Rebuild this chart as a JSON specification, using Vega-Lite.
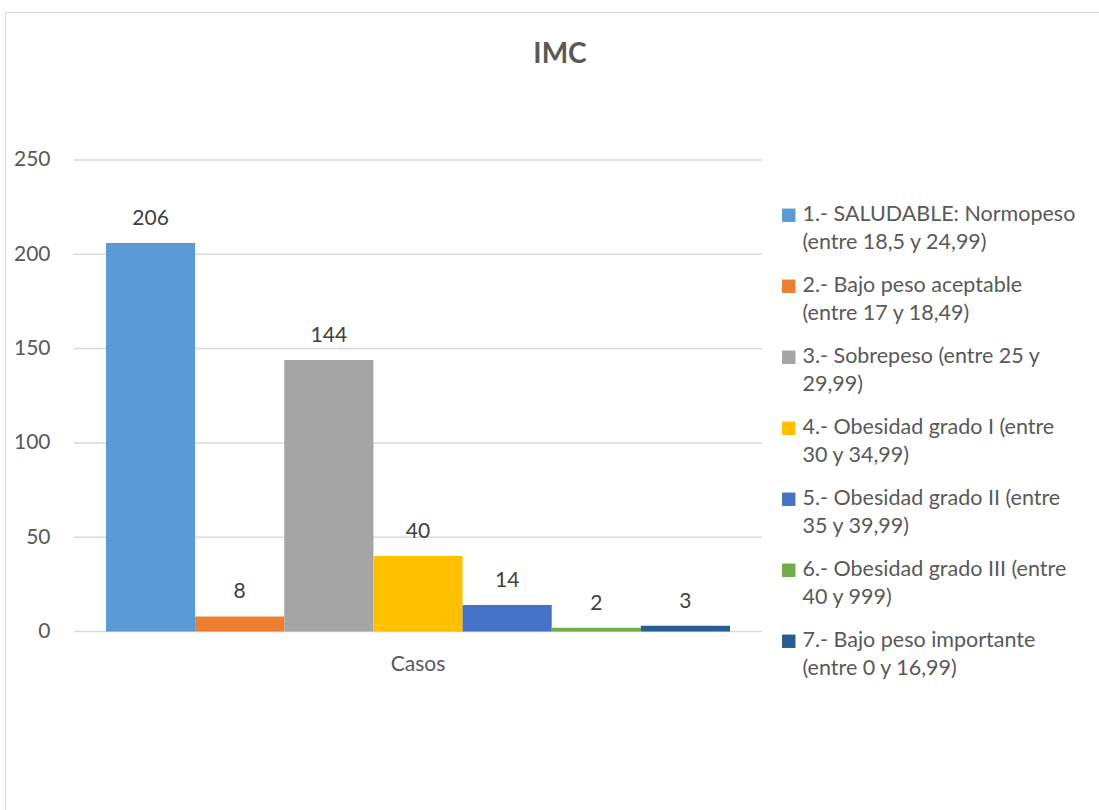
{
  "$schema": "https://vega.github.io/schema/vega-lite/v6.json",
  "width": 1110,
  "height": 805,
  "autosize": {"type": "none"},
  "padding": {"left": 5, "top": 12, "right": 0, "bottom": 0},
  "background": "white",
  "config": {
    "view": {"stroke": "#d9d9d9", "strokeWidth": 1},
    "font": "Lato",
    "style": {"guide-label": {"lineHeight": 28}}
  },
  "title": {
    "text": "IMC",
    "fontSize": 28,
    "fontWeight": "bold",
    "color": "#595959",
    "font": "Lato",
    "anchor": "middle",
    "frame": "group",
    "baseline": "alphabetic",
    "offset": -50,
    "dy": 29
  },
  "datasets": {
    "imc": [
      {"grupo": "Casos", "categoria": "1.- SALUDABLE: Normopeso\n(entre 18,5 y 24,99)", "casos": 206},
      {"grupo": "Casos", "categoria": "2.- Bajo peso aceptable\n(entre 17 y 18,49)", "casos": 8},
      {"grupo": "Casos", "categoria": "3.- Sobrepeso (entre 25 y\n29,99)", "casos": 144},
      {"grupo": "Casos", "categoria": "4.- Obesidad grado I (entre\n30 y 34,99)", "casos": 40},
      {"grupo": "Casos", "categoria": "5.- Obesidad grado II (entre\n35 y 39,99)", "casos": 14},
      {"grupo": "Casos", "categoria": "6.- Obesidad grado III (entre\n40 y 999)", "casos": 2},
      {"grupo": "Casos", "categoria": "7.- Bajo peso importante\n(entre 0 y 16,99)", "casos": 3}
    ],
    "grid": [{"v": 0}, {"v": 50}, {"v": 100}, {"v": 150}, {"v": 200}, {"v": 250}]
  },
  "encoding": {
    "x": {
      "field": "grupo",
      "type": "nominal",
      "scale": {"paddingInner": 0, "paddingOuter": 0.3894, "align": 0.2078},
      "axis": {
        "title": null,
        "domain": false,
        "ticks": false,
        "tickSize": 0,
        "grid": false,
        "labelAngle": 0,
        "labelFontSize": 21,
        "labelColor": "#595959",
        "labelFont": "Lato",
        "labelPadding": 22,
        "offset": -185.5
      }
    },
    "y": {
      "field": "casos",
      "type": "quantitative",
      "scale": {"domain": [-98.36, 328.47], "nice": false, "zero": false},
      "axis": {
        "title": null,
        "values": [0, 50, 100, 150, 200, 250],
        "domain": false,
        "ticks": false,
        "tickSize": 0,
        "grid": false,
        "labelFontSize": 21,
        "labelColor": "#595959",
        "labelFont": "Lato",
        "labelPadding": 5,
        "offset": -50
      }
    }
  },
  "layer": [
    {
      "data": {"name": "grid"},
      "mark": {"type": "tick", "orient": "horizontal", "color": "#d9d9d9", "thickness": 1.5, "size": 688, "opacity": 1},
      "encoding": {
        "x": {"datum": "Casos", "type": "nominal"},
        "y": {"field": "v", "type": "quantitative"}
      }
    },
    {
      "data": {"name": "imc"},
      "mark": {"type": "bar", "opacity": 1},
      "encoding": {
        "xOffset": {"field": "categoria", "type": "nominal", "scale": {"paddingInner": 0, "paddingOuter": 0}},
        "y2": {"datum": 0},
        "color": {
          "field": "categoria",
          "type": "nominal",
          "scale": {"range": ["#5B9BD5", "#ED7D31", "#A5A5A5", "#FFC000", "#4472C4", "#70AD47", "#255E91"]},
          "legend": {
            "title": null,
            "orient": "none",
            "legendX": 773,
            "legendY": 192.5,
            "padding": 0,
            "symbolType": "square",
            "symbolSize": 180,
            "symbolStrokeWidth": 0,
            "labelFontSize": 21.5,
            "labelFont": "Lato",
            "labelColor": "#595959",
            "labelOffset": 3,
            "labelLimit": 400,
            "rowPadding": 20,
            "labelExpr": "split(datum.label, '\\n')"
          }
        }
      }
    },
    {
      "data": {"name": "imc"},
      "mark": {"type": "text", "dy": -18, "baseline": "alphabetic", "fontSize": 21, "font": "Lato", "color": "#404040", "opacity": 1},
      "encoding": {
        "xOffset": {"field": "categoria", "type": "nominal", "scale": {"paddingInner": 0, "paddingOuter": 0}},
        "text": {"field": "casos", "type": "quantitative"}
      }
    }
  ]
}
